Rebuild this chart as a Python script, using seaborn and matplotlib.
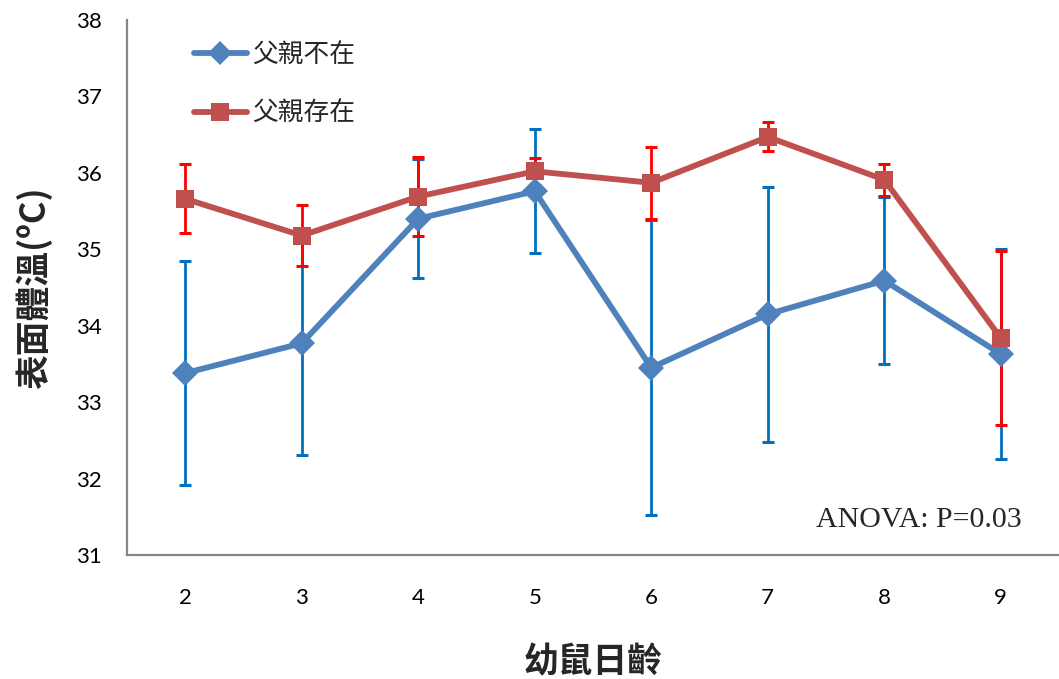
import numpy as np
import pandas as pd
import matplotlib
matplotlib.use("Agg")
import matplotlib.pyplot as plt
from matplotlib.lines import Line2D
import seaborn as sns

# Pup age (days) and surface body temperature (mean ± error)
days = [2, 3, 4, 5, 6, 7, 8, 9]
absent_mean = [33.38, 33.77, 35.40, 35.76, 33.45, 34.15, 34.59, 33.63]
absent_err = [1.47, 1.46, 0.78, 0.81, 1.93, 1.67, 1.09, 1.37]
present_mean = [35.66, 35.18, 35.69, 36.02, 35.87, 36.47, 35.91, 33.84]
present_err = [0.45, 0.40, 0.52, 0.18, 0.47, 0.19, 0.21, 1.14]

label_absent = "父親不在"
label_present = "父親存在"
y_ticks = [31, 32, 33, 34, 35, 36, 37, 38]

df = pd.DataFrame({
    "day": days * 2,
    "temp": absent_mean + present_mean,
    "group": [label_absent] * len(days) + [label_present] * len(days),
})

sns.set_theme(style="white")
plt.rcParams["font.family"] = ["Noto Sans CJK TC", "DejaVu Sans"]

line_colors = {label_absent: "#4F81BD", label_present: "#C0504D"}
err_colors = {label_absent: "#0070C0", label_present: "#FF0000"}
axis_gray = "#868686"
tick_font = ["Lato", "DejaVu Sans"]

fig = plt.figure(figsize=(10.59, 6.79), dpi=100)
ax = fig.add_axes([127 / 1059, 1 - 555 / 679, (1059 - 127) / 1059, 535 / 679])

# Error bars sit underneath both series
for mean, err, key in [(absent_mean, absent_err, label_absent),
                       (present_mean, present_err, label_present)]:
    ax.errorbar(days, mean, yerr=err, fmt="none", ecolor=err_colors[key],
                elinewidth=2.0, capsize=4.5, capthick=2.2, zorder=1)

sns.lineplot(data=df, x="day", y="temp", hue="group", style="group",
             markers={label_absent: "D", label_present: "s"}, dashes=False,
             palette=line_colors, linewidth=4.2, markersize=13,
             markeredgewidth=0, ax=ax, zorder=3, legend=False)

ax.set_xlim(1.5, 9.5 - 4 / 117)
ax.set_ylim(31, 38)
ax.set_yticks(y_ticks)
ax.set_yticklabels([str(v) for v in y_ticks], fontsize=16, family=tick_font)
ax.set_xticks(days)
ax.set_xticklabels([str(d) for d in days], fontsize=16, family=tick_font)
ax.set_xticks(np.arange(1.5, 10.0, 1.0), minor=True)
ax.tick_params(axis="x", which="major", length=0, pad=24, colors="black")
ax.tick_params(axis="x", which="minor", length=7, width=1.2, color=axis_gray, direction="out")
ax.tick_params(axis="y", which="major", length=6, width=1.2, color=axis_gray,
               direction="out", pad=12, labelcolor="black")

for side in ["top", "right"]:
    ax.spines[side].set_visible(False)
for side in ["left", "bottom"]:
    ax.spines[side].set_color(axis_gray)
    ax.spines[side].set_linewidth(1.6)

ax.set_xlabel("幼鼠日齡", fontsize=25, fontweight="bold", labelpad=26)
ax.set_ylabel("表面體溫(ºC)", fontsize=25, fontweight="bold", labelpad=17)

# Legend entries drawn with line + marker handles
handles = [
    Line2D([], [], color=line_colors[label_absent], marker="D", markersize=12,
           linewidth=4.2, markeredgewidth=0),
    Line2D([], [], color=line_colors[label_present], marker="s", markersize=13,
           linewidth=4.2, markeredgewidth=0),
]
ax.legend(handles, [label_absent, label_present], loc="upper left",
          bbox_to_anchor=(0.058, 0.982), frameon=False, fontsize=18.5,
          handlelength=2.06, handletextpad=0.2, labelspacing=1.26, borderpad=0)

ax.text(0.960, 0.065, "ANOVA: P=0.03", transform=ax.transAxes, ha="right",
        va="center", fontsize=21.5, family="Liberation Serif")

fig.savefig("out.png", dpi=100)
